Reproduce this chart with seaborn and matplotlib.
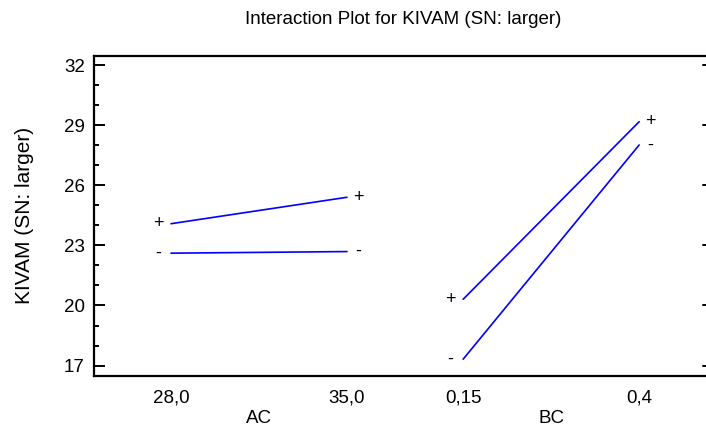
import numpy as np
import pandas as pd
import matplotlib
matplotlib.use("Agg")
import matplotlib.pyplot as plt
import seaborn as sns

sns.set_style("white")
plt.rcParams["font.family"] = ["Liberation Sans", "DejaVu Sans"]
plt.rcParams["text.color"] = "black"
plt.rcParams["xtick.color"] = "black"
plt.rcParams["ytick.color"] = "black"

# --- data ---
factors = ["AC", "BC"]
level_labels = {"AC": ["28,0", "35,0"], "BC": ["0,15", "0,4"]}
plus_vals = {"AC": [24.08, 25.40], "BC": [20.31, 29.17]}
minus_vals = {"AC": [22.61, 22.69], "BC": [17.32, 28.01]}

FACTOR_GAP = 0.66  # extra space between factor panels, in level units

rows = []
tick_pos, tick_lab = [], []
for i, f in enumerate(factors):
    base = i * (1 + FACTOR_GAP)
    for j, lab in enumerate(level_labels[f]):
        tick_pos.append(base + j)
        tick_lab.append(lab)
        rows.append({"factor": f, "sign": "+", "pos": base + j, "value": plus_vals[f][j]})
        rows.append({"factor": f, "sign": "-", "pos": base + j, "value": minus_vals[f][j]})
df = pd.DataFrame(rows)
df["segment"] = df["factor"] + df["sign"]

fig = plt.figure(figsize=(7.06, 4.30), dpi=100)
# the axes run a little past the right edge of the image, like the original
ax = fig.add_axes([94 / 706, 1 - 375.6 / 430, (714 - 94) / 706, (375.6 - 55.6) / 430])

sns.lineplot(data=df, x="pos", y="value", hue="segment", units="segment",
             estimator=None, palette=["#0000ff"] * 4, legend=False, lw=1.2, ax=ax)

# +/- markers at both ends of each line
for seg, g in df.groupby("segment"):
    g = g.sort_values("pos")
    sign = g["sign"].iloc[0]
    x0, y0 = g["pos"].iloc[0], g["value"].iloc[0]
    x1, y1 = g["pos"].iloc[-1], g["value"].iloc[-1]
    ax.annotate(sign, (x0, y0), xytext=(-9, 0), textcoords="offset points",
                ha="center", va="center", fontsize=13)
    ax.annotate(sign, (x1, y1), xytext=(8, 0), textcoords="offset points",
                ha="center", va="center", fontsize=13)

ax.set_xlim(-0.4375, (714 - 171) / 176)
ax.set_ylim(16.5, 32.47)
ax.set_xticks(tick_pos)
ax.set_xticklabels(tick_lab)
major_y = np.arange(17, 33, 3)
ax.set_yticks(major_y)
ax.set_yticks(np.arange(17, 33, 1), minor=True)
ax.set_xlabel("")
ax.set_ylabel("")

ax.tick_params(axis="x", length=0, pad=10, labelsize=13.5)
ax.tick_params(axis="y", which="major", direction="in", length=7.7, width=1.4,
               pad=6.5, labelsize=13.5, left=True, right=False)
ax.tick_params(axis="y", which="minor", direction="in", length=3.8, width=1.4,
               left=True, right=False)
for s in ax.spines.values():
    s.set_linewidth(1.6)
    s.set_color("black")
ax.spines["right"].set_visible(False)

# stubs of the right-hand ticks that peek in at the image edge
for yv in major_y:
    ax.plot([(703 - 94) / 620, (706 - 94) / 620], [yv, yv], color="black", lw=1.4,
            transform=ax.get_yaxis_transform(), clip_on=False)

# factor names under each pair of levels
for i, f in enumerate(factors):
    base = i * (1 + FACTOR_GAP)
    ax.text(base + 0.5, -42.4 / 320, f, transform=ax.get_xaxis_transform(),
            ha="center", va="center", fontsize=13.5)

fig.text(403 / 706, 1 - 20 / 430, "Interaction Plot for KIVAM (SN: larger)",
         ha="center", va="center", fontsize=13.5)
fig.text(25 / 706, 1 - 215 / 430, "KIVAM (SN: larger)", rotation=90,
         ha="center", va="center", fontsize=15)

fig.savefig("out.png", dpi=100)
